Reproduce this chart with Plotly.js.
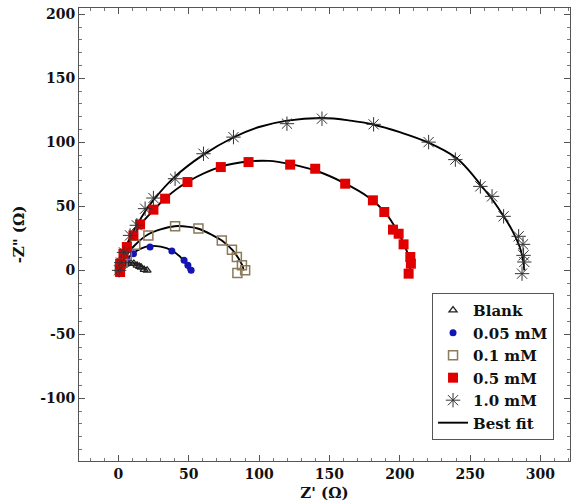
<!DOCTYPE html>
<html>
<head>
<meta charset="utf-8">
<script src="https://cdn.plot.ly/plotly-3.0.1.min.js"></script>
<style>html,body{margin:0;padding:0;background:#fff;}#chart{width:573px;height:504px;}</style>
</head>
<body>
<div id="chart"></div>
<script>
// ---- data ----
const seriesNames = ["Blank", "0.05 mM", "0.1 mM", "0.5 mM", "1.0 mM"];
const fitName = "Best fit";

const blankX = [0.5, 1.2, 2.5, 4.8, 7, 9, 11, 13.3, 15, 16.2, 18.3, 20.4];
const blankY = [0.5, 1.6, 3.2, 4.7, 5.4, 5.5, 5.2, 3.9, 3.0, 2.3, 0.5, 0];

const c005X = [1, 3, 6, 10.7, 22.5, 38, 46.7, 49.4, 51.7];
const c005Y = [1, 5, 9, 13, 18.2, 15.1, 7.8, 3.9, 0];

const c01X = [1, 3, 6, 12, 21.3, 40.3, 56.9, 73.5, 80.7, 84.2, 87.8, 90.1, 84.6];
const c01Y = [1, 6, 12, 20, 27.3, 34.4, 32.6, 23.4, 16.1, 10.4, 3.9, 0, -2.1];

const c05X = [1.2, 1.2, 3.6, 6, 10.7, 15.4, 24.9, 33.2, 49.1, 72.8, 92.5, 122.1, 139.9, 161.2, 180.9, 189, 195.2, 199.2, 202.7, 207.5, 207.9, 206.3];
const c05Y = [-1.3, 5.2, 13, 18.2, 27.3, 35.9, 47.4, 56, 69, 80.7, 84.6, 82.6, 79.4, 67.7, 54.7, 45.6, 31.8, 28.6, 20.3, 10.4, 5.2, -2.6];

const c10X = [0.5, 2, 4, 8.3, 13.1, 19, 24.9, 40.3, 60.5, 81.8, 119.8, 144.7, 181.4, 220.5, 239.5, 257.3, 265.6, 273.8, 284.5, 287.6, 288, 288.5, 286.9];
const c10Y = [0, 6, 14, 27.3, 35.2, 48.2, 56.5, 71.6, 91.1, 104.1, 114.6, 118.5, 114.1, 100.2, 86.5, 65.6, 57.8, 42.2, 26.6, 20.3, 11.7, 6.5, -2.6];

// best-fit curves
const fitBlankX = [0, 2, 5, 9, 13, 17, 20];
const fitBlankY = [0, 3, 5, 6, 5, 3, 0];
const fit005X = [3, 6, 10, 16, 22, 30, 38, 44, 48, 50];
const fit005Y = [0, 8, 13, 17, 19, 18.5, 15.5, 10.5, 5, 0];
const fit01X = [2, 6, 12, 21, 30, 40, 50, 57, 66, 74, 81, 85, 88, 89];
const fit01Y = [0, 12, 20, 28, 32, 34.5, 34, 32.5, 28, 23, 16, 10, 4, 0];
const fit05X = [0, 2, 6, 11, 16, 25, 33, 49, 73, 92, 107, 122, 140, 161, 178, 189, 196, 201, 205, 207, 207.5];
const fit05Y = [0, 8, 18, 27, 36, 47, 56, 69, 81, 85, 85.5, 83, 78, 68, 57, 46, 35, 25, 15, 5, 0];
const fit10X = [0, 3, 8, 13, 19, 25, 40, 60, 82, 100, 120, 145, 165, 181, 200, 220, 240, 250, 258, 266, 274, 280, 285, 287.5, 288.5];
const fit10Y = [0, 11, 25, 35, 46, 55, 73, 90, 104, 112, 117, 119, 117, 114, 108, 100, 88, 77, 66, 55, 42, 31, 19, 9, 0];

const xTicks = [0, 50, 100, 150, 200, 250, 300];
const yTicks = [-100, -50, 0, 50, 100, 150, 200];

// ---- styles ----
const FONT = "DejaVu Serif";
const fits = [[fitBlankX, fitBlankY], [fit005X, fit005Y], [fit01X, fit01Y], [fit05X, fit05Y], [fit10X, fit10Y]];

const traces = [];
fits.forEach((f, i) => {
  traces.push({
    x: f[0], y: f[1], type: 'scatter', mode: 'lines',
    line: {color: '#000', width: 1.9, shape: 'spline', smoothing: 1},
    name: fitName, legendgroup: 'fit', showlegend: i === 0, legendrank: 1000,
    hoverinfo: 'skip'
  });
});
traces.push({x: blankX, y: blankY, type: 'scatter', mode: 'markers', name: seriesNames[0], legendrank: 1,
  marker: {symbol: 'triangle-up-open', size: 7, color: '#222', line: {width: 1.3, color: '#222'}}});
traces.push({x: c005X, y: c005Y, type: 'scatter', mode: 'markers', name: seriesNames[1], legendrank: 2,
  marker: {symbol: 'circle', size: 7, color: '#1414b4'}});
traces.push({x: c01X, y: c01Y, type: 'scatter', mode: 'markers', name: seriesNames[2], legendrank: 3,
  marker: {symbol: 'square-open', size: 9, color: '#8b7a5c', line: {width: 1.5, color: '#8b7a5c'}}});
traces.push({x: c05X, y: c05Y, type: 'scatter', mode: 'markers', name: seriesNames[3], legendrank: 4,
  marker: {symbol: 'square', size: 10, color: '#e00000'}});
traces.push({x: c10X, y: c10Y, type: 'scatter', mode: 'markers', name: seriesNames[4], legendrank: 5,
  marker: {symbol: 'asterisk-open', size: 12, color: '#333', line: {width: 1, color: '#333'}}});

const axisCommon = {
  showgrid: false, zeroline: false, showline: true, linecolor: '#555', linewidth: 1,
  mirror: 'allticks', ticks: 'inside', ticklen: 6, tickcolor: '#555', tickwidth: 1,
  minor: {dtick: 10, ticks: 'inside', ticklen: 3, tickcolor: '#777'},
  tickfont: {family: FONT, size: 14, color: '#111', weight: 'bold'},
  automargin: false
};

const layout = {
  width: 573, height: 504,
  margin: {l: 79, r: 3, t: 8, b: 43},
  paper_bgcolor: '#fff', plot_bgcolor: '#fff',
  showlegend: true,
  xaxis: Object.assign({}, axisCommon, {
    range: [-28, 321], tickvals: xTicks, ticktext: xTicks.map(String),
    title: {text: "Z' (Ω)", font: {family: FONT, size: 15, color: '#111', weight: 'bold'}, standoff: 6}
  }),
  yaxis: Object.assign({}, axisCommon, {
    range: [-149, 205], tickvals: yTicks, ticktext: yTicks.map(String),
    title: {text: '-Z" (Ω)', font: {family: FONT, size: 15, color: '#111', weight: 'bold'}, standoff: 11}
  }),
  legend: {
    x: 0.719, y: 0.371, xanchor: 'left', yanchor: 'top',
    bgcolor: '#fff', bordercolor: '#555', borderwidth: 1,
    font: {family: FONT, size: 15, color: '#111', weight: 'bold'},
    traceorder: 'normal', itemwidth: 30
  }
};

Plotly.newPlot('chart', traces, layout, {displayModeBar: false, staticPlot: true});
</script>
</body>
</html>
